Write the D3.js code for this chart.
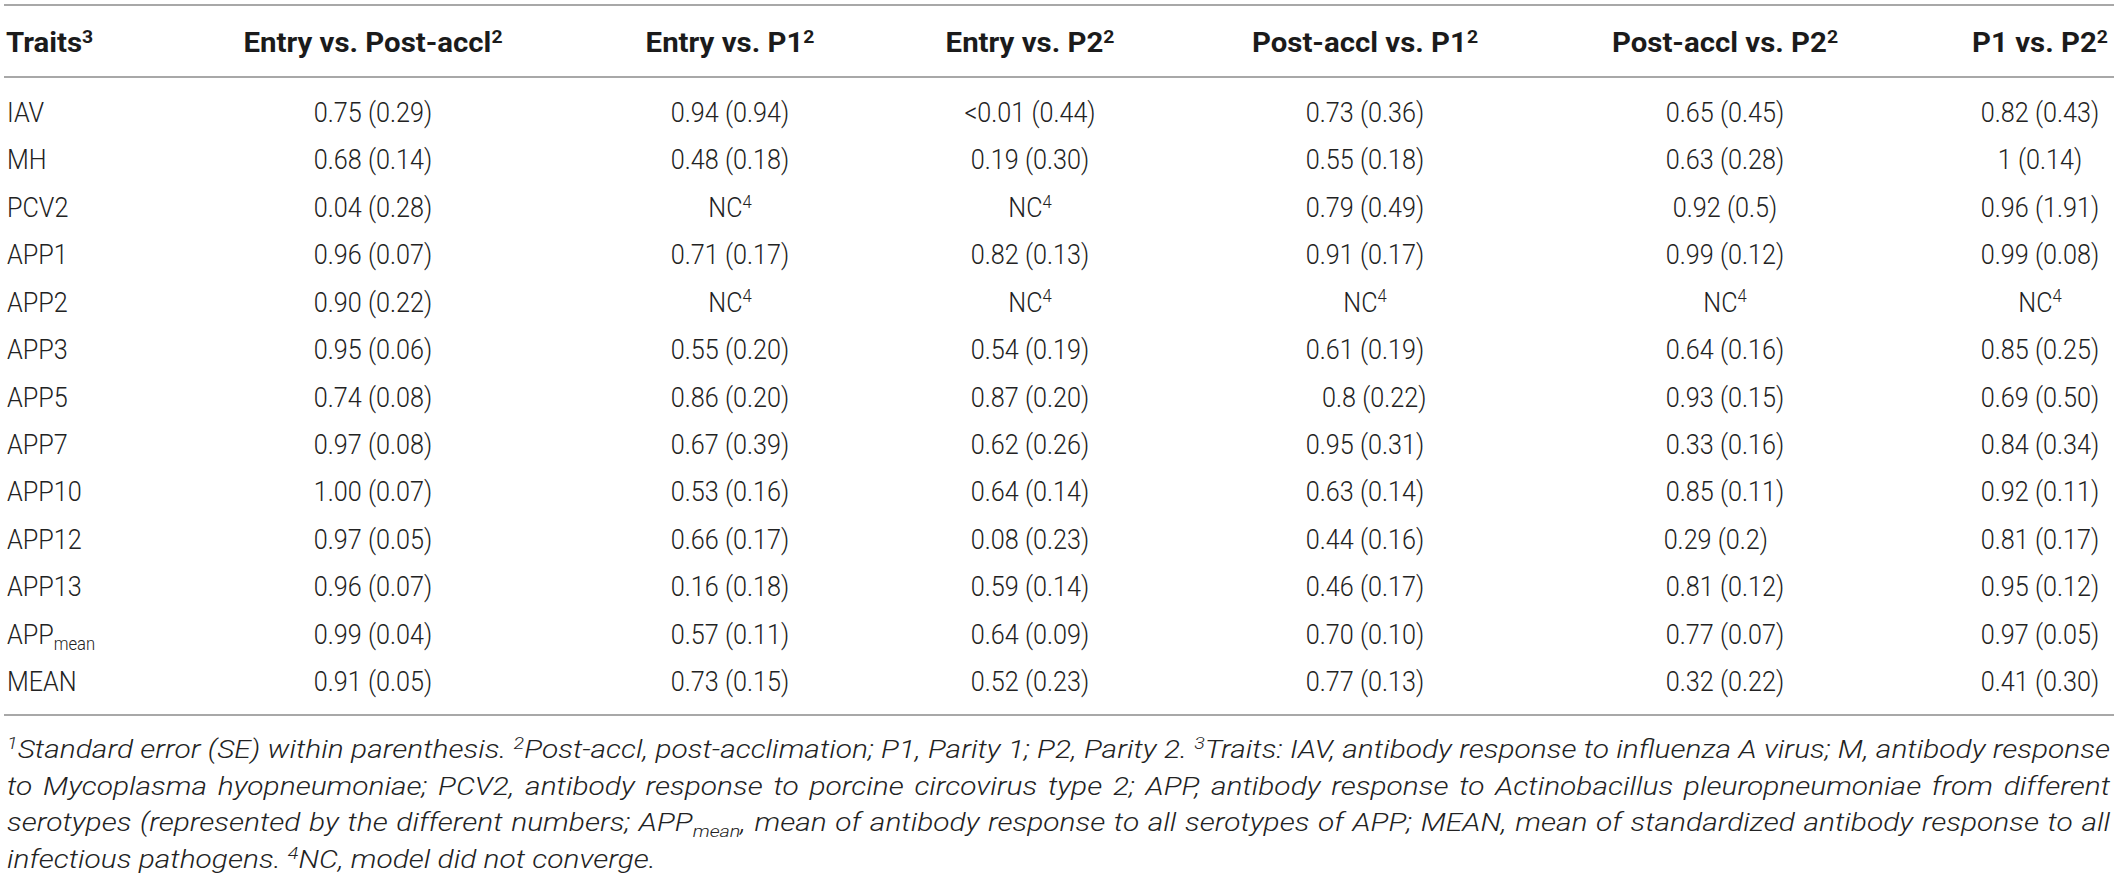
<!DOCTYPE html>
<html>
<head>
<meta charset="utf-8">
<script src="https://cdn.jsdelivr.net/npm/d3@7/dist/d3.min.js"></script>
<style>
  body { margin: 0; background: #fff; }
  text { white-space: pre; }
</style>
</head>
<body>
<div id="tabla"></div>
<script>
// Datos de la tabla (correlaciones genéticas con su SE)
const rasgos = ['IAV', 'MH', 'PCV2', 'APP1', 'APP2', 'APP3', 'APP5', 'APP7', 'APP10', 'APP12', 'APP13', 'APPmean', 'MEAN']
const comparaciones = ['Entry vs. Post-accl', 'Entry vs. P1', 'Entry vs. P2', 'Post-accl vs. P1', 'Post-accl vs. P2', 'P1 vs. P2']

const entryPost = ['0.75 (0.29)', '0.68 (0.14)', '0.04 (0.28)', '0.96 (0.07)', '0.90 (0.22)', '0.95 (0.06)', '0.74 (0.08)', '0.97 (0.08)', '1.00 (0.07)', '0.97 (0.05)', '0.96 (0.07)', '0.99 (0.04)', '0.91 (0.05)']
const entryP1   = ['0.94 (0.94)', '0.48 (0.18)', 'NC', '0.71 (0.17)', 'NC', '0.55 (0.20)', '0.86 (0.20)', '0.67 (0.39)', '0.53 (0.16)', '0.66 (0.17)', '0.16 (0.18)', '0.57 (0.11)', '0.73 (0.15)']
const entryP2   = ['<0.01 (0.44)', '0.19 (0.30)', 'NC', '0.82 (0.13)', 'NC', '0.54 (0.19)', '0.87 (0.20)', '0.62 (0.26)', '0.64 (0.14)', '0.08 (0.23)', '0.59 (0.14)', '0.64 (0.09)', '0.52 (0.23)']
const postP1    = ['0.73 (0.36)', '0.55 (0.18)', '0.79 (0.49)', '0.91 (0.17)', 'NC', '0.61 (0.19)', '   0.8 (0.22)', '0.95 (0.31)', '0.63 (0.14)', '0.44 (0.16)', '0.46 (0.17)', '0.70 (0.10)', '0.77 (0.13)']
const postP2    = ['0.65 (0.45)', '0.63 (0.28)', '0.92 (0.5)', '0.99 (0.12)', 'NC', '0.64 (0.16)', '0.93 (0.15)', '0.33 (0.16)', '0.85 (0.11)', '0.29 (0.2)   ', '0.81 (0.12)', '0.77 (0.07)', '0.32 (0.22)']
const p1P2      = ['0.82 (0.43)', '1 (0.14)', '0.96 (1.91)', '0.99 (0.08)', 'NC', '0.85 (0.25)', '0.69 (0.50)', '0.84 (0.34)', '0.92 (0.11)', '0.81 (0.17)', '0.95 (0.12)', '0.97 (0.05)', '0.41 (0.30)']
const columnas = [entryPost, entryP1, entryP2, postP1, postP2, p1P2]

// Notas al pie, una lista por renglón
const notas = [
  [{ sup: '1' }, 'Standard error (SE) within parenthesis. ', { sup: '2' }, 'Post-accl, post-acclimation; P1, Parity 1; P2, Parity 2. ', { sup: '3' }, 'Traits: IAV, antibody response to influenza A virus; M, antibody response'],
  ['to Mycoplasma hyopneumoniae; PCV2, antibody response to porcine circovirus type 2; APP, antibody response to Actinobacillus pleuropneumoniae from different'],
  ['serotypes (represented by the different numbers; APP', { sub: 'mean' }, ', mean of antibody response to all serotypes of APP; MEAN, mean of standardized antibody response to all'],
  ['infectious pathogens. ', { sup: '4' }, 'NC, model did not converge.']
]

// I. Configuración
ancho = 2118
alto = 882
fuente = 'Roboto, "Liberation Sans", sans-serif'

svg = d3.select('#tabla').append('svg')
  .attr('width', ancho)
  .attr('height', alto)
  .style('display', 'block')

// escaladores: columnas y renglones
x = d3.scaleOrdinal()
  .domain(comparaciones)
  .range([373, 730, 1030, 1365, 1725, 2040])

y = d3.scalePoint()
  .domain(rasgos)
  .range([112, 681])

// texto con superíndices / subíndices, desplazamientos en px
function textoRico(sel, partes, tam) {
  let desplazado = 0
  partes.forEach(p => {
    let t = p, objetivo = 0, chico = false
    if (typeof p === 'object') {
      chico = true
      t = p.sup || p.sub
      objetivo = p.sup ? -0.33 * tam : 0.22 * tam
    }
    sel.append('tspan')
      .attr('dy', objetivo - desplazado)
      .style('font-size', chico ? `${tam * 0.66}px` : null)
      .text(t)
    desplazado = objetivo
  })
}

// Líneas horizontales
;[5, 77, 715].forEach(yy => {
  svg.append('line')
    .attr('x1', 4).attr('x2', 2114)
    .attr('y1', yy).attr('y2', yy)
    .attr('stroke', '#a8a8a8')
    .attr('stroke-width', 2)
})

// II. Encabezado
tamEnc = 28
escEnc = 1.05
encabezado = svg.append('g')
  .attr('font-family', fuente)
  .attr('font-weight', 700)
  .attr('font-size', tamEnc)
  .attr('fill', '#1b1b1b')

encabezado.append('text')
  .attr('transform', `translate(6, 52) scale(${escEnc},1)`)
  .call(s => textoRico(s, ['Traits', { sup: '3' }], tamEnc))

encabezado.selectAll('text.col')
  .data(comparaciones)
  .enter()
  .append('text')
    .attr('class', 'col')
    .attr('text-anchor', 'middle')
    .attr('transform', d => `translate(${x(d)}, 52) scale(${escEnc},1)`)
    .each(function (d) { textoRico(d3.select(this), [d, { sup: '2' }], tamEnc) })

// III. Cuerpo
tamCuerpo = 28
escCuerpo = 0.9      // la tipografía original es algo más angosta
cuerpo = svg.append('g')
  .attr('font-family', fuente)
  .attr('font-weight', 300)
  .attr('font-size', tamCuerpo)
  .attr('fill', '#222')

cuerpo.selectAll('text.rasgo')
  .data(rasgos)
  .enter()
  .append('text')
    .attr('class', 'rasgo')
    .attr('transform', d => `translate(7, ${y(d) + 10}) scale(${escCuerpo},1)`)
    .each(function (d) {
      if (d === 'APPmean') textoRico(d3.select(this), ['APP', { sub: 'mean' }], tamCuerpo)
      else d3.select(this).text(d)
    })

celdas = []
columnas.forEach((col, j) => {
  col.forEach((v, i) => celdas.push({ comp: comparaciones[j], rasgo: rasgos[i], valor: v }))
})

cuerpo.selectAll('text.celda')
  .data(celdas)
  .enter()
  .append('text')
    .attr('class', 'celda')
    .attr('text-anchor', 'middle')
    .attr('transform', d => `translate(${x(d.comp)}, ${y(d.rasgo) + 10}) scale(${escCuerpo},1)`)
    .each(function (d) {
      if (d.valor === 'NC') textoRico(d3.select(this), ['NC', { sup: '4' }], tamCuerpo)
      else d3.select(this).text(d.valor)
    })

// IV. Notas al pie (justificadas a todo lo ancho)
tamPie = 26
pie = svg.append('g')
  .attr('font-family', fuente)
  .attr('font-weight', 300)
  .attr('font-style', 'italic')
  .attr('font-size', tamPie)
  .attr('fill', '#222')

izq = 7
der = 2110
lineas = notas.map((linea, i) => {
  t = pie.append('text')
  textoRico(t, linea, tamPie)
  return t
})

// el primer renglón va casi sin holgura: de ahí sale el ancho de la letra
escPie = Math.min((der - izq) / lineas[0].node().getComputedTextLength(), 1.2)

lineas.forEach((t, i) => {
  t.attr('transform', `translate(${izq}, ${758 + i * 36.5}) scale(${escPie},1)`)
  if (i < lineas.length - 1) {
    natural = t.node().getComputedTextLength()
    espacios = notas[i].filter(p => typeof p === 'string').join('').split(' ').length - 1
    t.attr('word-spacing', Math.max(0, ((der - izq) / escPie - natural) / espacios))
  }
})
</script>
</body>
</html>
